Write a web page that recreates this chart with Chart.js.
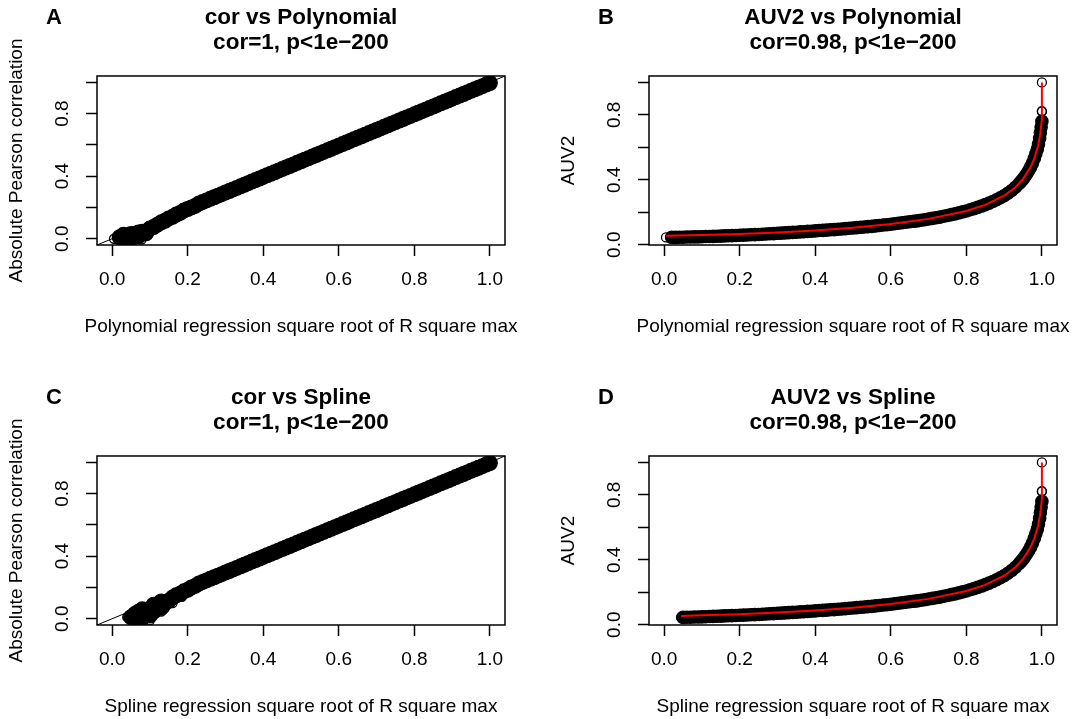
<!DOCTYPE html>
<html>
<head>
<meta charset="utf-8">
<script src="https://cdn.jsdelivr.net/npm/chart.js@4/dist/chart.umd.min.js"></script>
<style>
  html, body { margin: 0; padding: 0; background: #fff; width: 1076px; height: 719px; overflow: hidden; position: relative; }
  canvas { position: absolute; }
</style>
</head>
<body>
<canvas id="panelA" width="552" height="380" style="left:0;top:0"></canvas>
<canvas id="panelB" width="552" height="380" style="left:552px;top:0"></canvas>
<canvas id="panelC" width="552" height="380" style="left:0;top:380px"></canvas>
<canvas id="panelD" width="552" height="380" style="left:552px;top:380px"></canvas>
<script>
// axis ticks (R style: every tick drawn, some y labels dropped)
const xTickValues = [0, 0.2, 0.4, 0.6, 0.8, 1.0];
const yLabelled = [0, 0.4, 0.8];

// cor vs Polynomial: dense band of points, plus the sparse circles at the low end
const corPolyCloud = [
  [0.02,0.01],[0.03,0.005],[0.03,0.025],[0.04,0.02],[0.05,0.01],[0.05,0.03],[0.06,0.03],
  [0.07,0.015],[0.07,0.04],[0.08,0.045],[0.09,0.035],
  [0.10,0.065],[0.11,0.075],[0.12,0.09],[0.13,0.105],[0.14,0.115],[0.15,0.13],[0.16,0.14],
  [0.17,0.155],[0.18,0.165],[0.19,0.18],[0.20,0.19],[0.21,0.20],[0.22,0.21],[0.23,0.225],
  [0.24,0.235],[0.25,0.245],[0.26,0.255],[0.27,0.265],[0.28,0.275],[0.29,0.285],[0.30,0.295],
  [0.31,0.305],[0.32,0.315],[0.33,0.325],[0.34,0.335],[0.35,0.345],[0.36,0.355],[0.37,0.365],
  [0.38,0.375],[0.39,0.385],[0.40,0.395],[0.41,0.405],[0.42,0.415],[0.43,0.425],[0.44,0.435],
  [0.45,0.445],[0.46,0.455],[0.47,0.465],[0.48,0.475],[0.49,0.485],[0.50,0.495],[0.51,0.505],
  [0.52,0.515],[0.53,0.525],[0.54,0.535],[0.55,0.545],[0.56,0.555],[0.57,0.565],[0.58,0.575],
  [0.59,0.585],[0.60,0.595],[0.61,0.605],[0.62,0.615],[0.63,0.625],[0.64,0.635],[0.65,0.645],
  [0.66,0.655],[0.67,0.665],[0.68,0.675],[0.69,0.685],[0.70,0.695],[0.71,0.705],[0.72,0.715],
  [0.73,0.725],[0.74,0.735],[0.75,0.745],[0.76,0.755],[0.77,0.765],[0.78,0.775],[0.79,0.785],
  [0.80,0.795],[0.81,0.805],[0.82,0.815],[0.83,0.825],[0.84,0.835],[0.85,0.845],[0.86,0.855],
  [0.87,0.865],[0.88,0.875],[0.89,0.885],[0.90,0.895],[0.91,0.905],[0.92,0.915],[0.93,0.925],
  [0.94,0.935],[0.95,0.945],[0.96,0.955],[0.97,0.965],[0.98,0.975],[0.99,0.985],[1.00,0.995]
];
const corPolyOpen = [[0.005,0.0],[0.045,-0.005],[0.06,-0.008],[0.078,-0.005]];

// cor vs Spline
const corSplineCloud = [
  [0.05,0.01],[0.06,0.0],[0.06,0.03],[0.07,0.02],[0.07,0.045],[0.08,0.005],[0.08,0.06],
  [0.09,0.035],[0.10,0.02],[0.10,0.06],[0.11,0.045],[0.11,0.09],[0.12,0.08],[0.13,0.07],
  [0.13,0.11],[0.14,0.10],[0.15,0.115],[0.16,0.135],[0.17,0.15],
  [0.18,0.16],[0.19,0.175],[0.20,0.185],[0.21,0.20],[0.22,0.21],[0.23,0.225],
  [0.24,0.235],[0.25,0.245],[0.26,0.255],[0.27,0.265],[0.28,0.275],[0.29,0.285],[0.30,0.295],
  [0.31,0.305],[0.32,0.315],[0.33,0.325],[0.34,0.335],[0.35,0.345],[0.36,0.355],[0.37,0.365],
  [0.38,0.375],[0.39,0.385],[0.40,0.395],[0.41,0.405],[0.42,0.415],[0.43,0.425],[0.44,0.435],
  [0.45,0.445],[0.46,0.455],[0.47,0.465],[0.48,0.475],[0.49,0.485],[0.50,0.495],[0.51,0.505],
  [0.52,0.515],[0.53,0.525],[0.54,0.535],[0.55,0.545],[0.56,0.555],[0.57,0.565],[0.58,0.575],
  [0.59,0.585],[0.60,0.595],[0.61,0.605],[0.62,0.615],[0.63,0.625],[0.64,0.635],[0.65,0.645],
  [0.66,0.655],[0.67,0.665],[0.68,0.675],[0.69,0.685],[0.70,0.695],[0.71,0.705],[0.72,0.715],
  [0.73,0.725],[0.74,0.735],[0.75,0.745],[0.76,0.755],[0.77,0.765],[0.78,0.775],[0.79,0.785],
  [0.80,0.795],[0.81,0.805],[0.82,0.815],[0.83,0.825],[0.84,0.835],[0.85,0.845],[0.86,0.855],
  [0.87,0.865],[0.88,0.875],[0.89,0.885],[0.90,0.895],[0.91,0.905],[0.92,0.915],[0.93,0.925],
  [0.94,0.935],[0.95,0.945],[0.96,0.955],[0.97,0.965],[0.98,0.975],[0.99,0.985],[1.00,0.995]
];
const corSplineOpen = [[0.04,0.01],[0.07,-0.01],[0.085,0.0],[0.10,-0.01],[0.11,0.03],[0.13,0.045],[0.14,0.07],[0.16,0.10],[0.185,0.14]];

// AUV2 vs Polynomial
const auvPolyCloud = [
  [0.02,0.045],[0.03,0.045],[0.04,0.046],[0.05,0.046],[0.06,0.047],[0.07,0.047],[0.08,0.048],
  [0.09,0.048],[0.10,0.049],[0.11,0.05],[0.12,0.05],[0.13,0.051],[0.14,0.052],[0.15,0.053],
  [0.16,0.054],[0.17,0.055],[0.18,0.056],[0.19,0.057],[0.20,0.058],[0.21,0.059],[0.22,0.06],
  [0.23,0.061],[0.24,0.062],[0.25,0.063],[0.26,0.064],[0.27,0.066],[0.28,0.067],[0.29,0.068],
  [0.30,0.07],[0.31,0.071],[0.32,0.073],[0.33,0.074],[0.34,0.076],[0.35,0.077],[0.36,0.079],
  [0.37,0.08],[0.38,0.082],[0.39,0.083],[0.40,0.085],[0.41,0.087],[0.42,0.088],[0.43,0.09],
  [0.44,0.092],[0.45,0.093],[0.46,0.095],[0.47,0.097],[0.48,0.099],[0.49,0.101],[0.50,0.103],
  [0.51,0.105],[0.52,0.107],[0.53,0.109],[0.54,0.111],[0.55,0.113],[0.56,0.116],[0.57,0.118],
  [0.58,0.121],[0.59,0.123],[0.60,0.126],[0.61,0.129],[0.62,0.132],[0.63,0.135],[0.64,0.138],
  [0.65,0.141],[0.66,0.144],[0.67,0.147],[0.68,0.151],[0.69,0.154],[0.70,0.158],[0.71,0.162],
  [0.72,0.166],[0.73,0.17],[0.74,0.175],[0.75,0.18],[0.76,0.185],[0.77,0.19],[0.78,0.196],
  [0.79,0.202],[0.80,0.208],[0.81,0.215],[0.82,0.222],[0.83,0.23],[0.84,0.238],[0.85,0.247],
  [0.86,0.256],[0.87,0.266],[0.88,0.277],[0.89,0.289],[0.90,0.302],[0.91,0.317],[0.92,0.334],
  [0.93,0.354],[0.94,0.377],[0.945,0.39],[0.95,0.404],[0.955,0.42],[0.96,0.437],[0.965,0.456],
  [0.97,0.478],[0.975,0.503],[0.98,0.532],[0.984,0.56],[0.988,0.59],[0.991,0.62],[0.994,0.655],
  [0.996,0.69],[0.998,0.725],[1.0,0.76]
];
const auvPolyOpen = [[0.005,0.045],[1.0,0.82],[1.0,0.824],[1.0,1.0]];
const auvPolyFit = [
  [0.005,0.055],[0.1,0.06],[0.2,0.066],[0.3,0.075],[0.4,0.088],[0.5,0.104],[0.6,0.128],
  [0.7,0.159],[0.8,0.208],[0.85,0.245],[0.9,0.302],[0.93,0.354],[0.95,0.404],[0.97,0.478],
  [0.98,0.532],[0.99,0.61],[0.995,0.675],[1.0,0.77],[1.0,1.0]
];

// AUV2 vs Spline
const auvSplineCloud = [
  [0.05,0.045],[0.06,0.046],[0.07,0.046],[0.08,0.047],[0.09,0.047],[0.10,0.048],[0.11,0.049],
  [0.12,0.05],[0.13,0.051],[0.14,0.052],[0.15,0.053],
  [0.16,0.054],[0.17,0.055],[0.18,0.056],[0.19,0.057],[0.20,0.058],[0.21,0.059],[0.22,0.06],
  [0.23,0.061],[0.24,0.062],[0.25,0.063],[0.26,0.064],[0.27,0.066],[0.28,0.067],[0.29,0.068],
  [0.30,0.07],[0.31,0.071],[0.32,0.073],[0.33,0.074],[0.34,0.076],[0.35,0.077],[0.36,0.079],
  [0.37,0.08],[0.38,0.082],[0.39,0.083],[0.40,0.085],[0.41,0.087],[0.42,0.088],[0.43,0.09],
  [0.44,0.092],[0.45,0.093],[0.46,0.095],[0.47,0.097],[0.48,0.099],[0.49,0.101],[0.50,0.103],
  [0.51,0.105],[0.52,0.107],[0.53,0.109],[0.54,0.111],[0.55,0.113],[0.56,0.116],[0.57,0.118],
  [0.58,0.121],[0.59,0.123],[0.60,0.126],[0.61,0.129],[0.62,0.132],[0.63,0.135],[0.64,0.138],
  [0.65,0.141],[0.66,0.144],[0.67,0.147],[0.68,0.151],[0.69,0.154],[0.70,0.158],[0.71,0.162],
  [0.72,0.166],[0.73,0.17],[0.74,0.175],[0.75,0.18],[0.76,0.185],[0.77,0.19],[0.78,0.196],
  [0.79,0.202],[0.80,0.208],[0.81,0.215],[0.82,0.222],[0.83,0.23],[0.84,0.238],[0.85,0.247],
  [0.86,0.256],[0.87,0.266],[0.88,0.277],[0.89,0.289],[0.90,0.302],[0.91,0.317],[0.92,0.334],
  [0.93,0.354],[0.94,0.377],[0.945,0.39],[0.95,0.404],[0.955,0.42],[0.96,0.437],[0.965,0.456],
  [0.97,0.478],[0.975,0.503],[0.98,0.532],[0.984,0.56],[0.988,0.59],[0.991,0.62],[0.994,0.655],
  [0.996,0.69],[0.998,0.725],[1.0,0.76]
];
const auvSplineOpen = [[0.045,0.045],[1.0,0.82],[1.0,0.824],[1.0,1.0]];
const auvSplineFit = [
  [0.045,0.054],[0.1,0.058],[0.2,0.065],[0.3,0.075],[0.4,0.088],[0.5,0.104],[0.6,0.128],
  [0.7,0.159],[0.8,0.208],[0.85,0.245],[0.9,0.302],[0.93,0.354],[0.95,0.404],[0.97,0.478],
  [0.98,0.532],[0.99,0.61],[0.995,0.675],[1.0,0.77],[1.0,1.0]
];

const FONT = '"Liberation Sans", Arial, Helvetica, sans-serif';
const toXY = arr => arr.map(([x, y]) => ({ x, y }));

// box round the plot region, the panel letter and the x axis title
// (x title drawn here so it can run wider than the plot region, as in R)
const framePlugin = {
  id: 'frame',
  afterDraw(chart, args, opts) {
    const { ctx, chartArea: a } = chart;
    ctx.save();
    ctx.strokeStyle = '#000';
    ctx.lineWidth = 1.5;
    ctx.strokeRect(a.left, a.top, a.right - a.left, a.bottom - a.top);
    ctx.fillStyle = '#000';
    ctx.textAlign = 'center';
    ctx.textBaseline = 'middle';
    ctx.font = 'bold 22px ' + FONT;
    ctx.fillText(opts.letter, 54, 18);
    ctx.font = '19px ' + FONT;
    ctx.fillText(opts.xTitle, (a.left + a.right) / 2, a.bottom + 82);
    ctx.restore();
  }
};

function makePanel(id, p) {
  const datasets = [];
  if (p.fit) {
    datasets.push({ data: toXY(p.fit), showLine: true, borderColor: '#ff0000', borderWidth: 2,
                    pointRadius: 0, tension: 0 });
  }
  if (p.diagonal) {
    datasets.push({ data: toXY(p.diagonal), showLine: true, borderColor: '#000', borderWidth: 1,
                    pointRadius: 0 });
  }
  datasets.push({ data: toXY(p.open), pointRadius: 4.5, pointBorderWidth: 1.3,
                  pointBorderColor: '#000', pointBackgroundColor: 'rgba(0,0,0,0)' });
  datasets.push({ data: toXY(p.cloud), pointRadius: p.bandRadius, pointBorderWidth: 1.2,
                  pointBorderColor: '#000', pointBackgroundColor: '#000' });

  const tickFont = { family: FONT, size: 19 };
  return new Chart(document.getElementById(id), {
    type: 'scatter',
    data: { datasets },
    options: {
      responsive: false,
      animation: false,
      events: [],
      layout: { padding: { left: 0, right: 47, top: 0, bottom: 35 } },
      plugins: {
        legend: { display: false },
        tooltip: { enabled: false },
        title: {
          display: true, fullSize: false, text: p.title, color: '#000',
          font: { family: FONT, size: 22.5, weight: 'bold', lineHeight: 1.133 },
          padding: { top: 4.75, bottom: 20.25 }
        },
        frame: { letter: p.letter, xTitle: p.xTitle }
      },
      scales: {
        x: {
          type: 'linear', min: -0.04, max: 1.04,
          afterFit: s => { s.height = 100; },
          afterBuildTicks: s => { s.ticks = xTickValues.map(v => ({ value: v })); },
          border: { display: false },
          grid: { drawOnChartArea: false, drawTicks: true, tickLength: 11, tickColor: '#000', tickWidth: 1.5 },
          ticks: { autoSkip: false, maxRotation: 0,
                   padding: 12.6, color: '#000', font: tickFont,
                   callback: v => v.toFixed(1) }
        },
        y: {
          type: 'linear', min: p.yMin, max: p.yMax,
          afterFit: s => { s.width = 97; },
          border: { display: false },
          grid: { drawOnChartArea: false, drawTicks: true, tickLength: 11, tickColor: '#000', tickWidth: 1.5 },
          ticks: { stepSize: 0.2, includeBounds: false, autoSkip: false,
                   minRotation: 90, maxRotation: 90, crossAlign: 'center',
                   padding: 9.8, color: '#000', font: tickFont,
                   callback: v => yLabelled.some(t => Math.abs(t - v) < 1e-6) ? v.toFixed(1) : '' },
          title: { display: true, text: p.yTitle, color: '#000', font: tickFont,
                   padding: { top: 5.6, bottom: 0 } }
        }
      }
    },
    plugins: [framePlugin]
  });
}

const diagonalLine = [[-0.04, -0.04], [1.04, 1.04]];

makePanel('panelA', {
  letter: 'A', title: ['cor vs Polynomial', 'cor=1, p<1e\u2212200'],
  xTitle: 'Polynomial regression square root of R square max', yTitle: 'Absolute Pearson correlation',
  yMin: -0.04, yMax: 1.04, cloud: corPolyCloud, open: corPolyOpen, diagonal: diagonalLine, bandRadius: 7.4
});
makePanel('panelB', {
  letter: 'B', title: ['AUV2 vs Polynomial', 'cor=0.98, p<1e\u2212200'],
  xTitle: 'Polynomial regression square root of R square max', yTitle: 'AUV2',
  yMin: -0.002, yMax: 1.04, cloud: auvPolyCloud, open: auvPolyOpen, fit: auvPolyFit, bandRadius: 6.2
});
makePanel('panelC', {
  letter: 'C', title: ['cor vs Spline', 'cor=1, p<1e\u2212200'],
  xTitle: 'Spline regression square root of R square max', yTitle: 'Absolute Pearson correlation',
  yMin: -0.04, yMax: 1.04, cloud: corSplineCloud, open: corSplineOpen, diagonal: diagonalLine, bandRadius: 7.4
});
makePanel('panelD', {
  letter: 'D', title: ['AUV2 vs Spline', 'cor=0.98, p<1e\u2212200'],
  xTitle: 'Spline regression square root of R square max', yTitle: 'AUV2',
  yMin: -0.002, yMax: 1.04, cloud: auvSplineCloud, open: auvSplineOpen, fit: auvSplineFit, bandRadius: 6.2
});
</script>
</body>
</html>
